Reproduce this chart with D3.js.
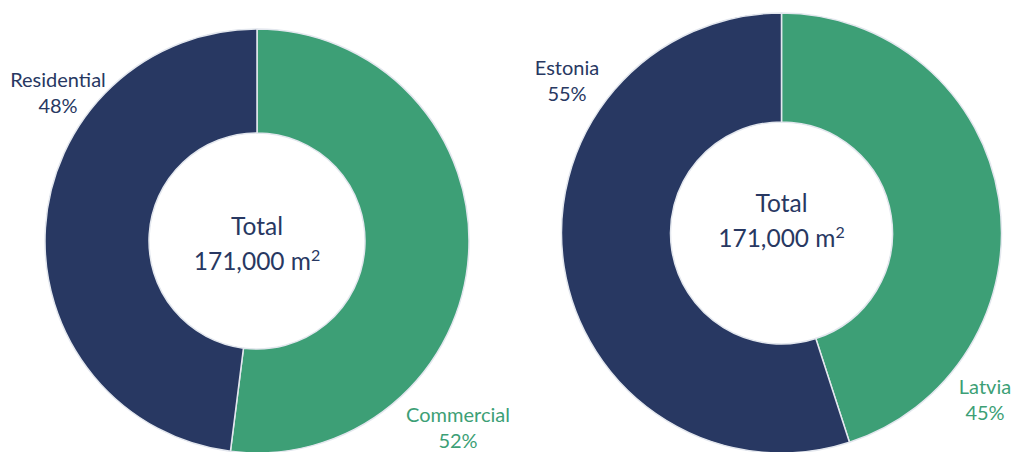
<!DOCTYPE html>
<html>
<head>
<meta charset="utf-8">
<script src="https://cdn.jsdelivr.net/npm/d3@7"></script>
<style>
  html, body { margin: 0; padding: 0; background: #fff; }
  svg { display: block; font-family: Lato, "Open Sans", sans-serif; }
</style>
</head>
<body>
<div id="chart"></div>
<script>
// segment data, clockwise from 12 o'clock
const typeLabels = ['Commercial', 'Residential'];
const typeValues = [52, 48];
const countryLabels = ['Latvia', 'Estonia'];
const countryValues = [45, 55];
const totalLines = ['Total', '171,000 m'];

const navy = '#283862';
const green = '#3d9f76';

const W = 1015, H = 452;
const svg = d3.select('#chart').append('svg')
    .attr('width', W)
    .attr('height', H);

function drawDonut(opts) {
    const g = svg.append('g')
        .attr('transform', `translate(${opts.cx},${opts.cy})`);

    const data = opts.labels.map((l, i) => ({ label: l, value: opts.values[i] }));
    const pie = d3.pie().sort(null).value(d => d.value);
    const arc = d3.arc().innerRadius(opts.r0).outerRadius(opts.r1);
    const color = d3.scaleOrdinal().domain(opts.labels).range([green, navy]);

    g.selectAll('path')
        .data(pie(data))
        .enter()
        .append('path')
        .attr('d', arc)
        .attr('fill', d => color(d.data.label))
        .attr('stroke', '#e3e7ee')
        .attr('stroke-width', 1.5);

    // center text
    g.append('text')
        .attr('text-anchor', 'middle')
        .attr('y', opts.totalY)
        .attr('font-size', 24.5)
        .attr('fill', navy)
        .text(totalLines[0]);

    const t2 = g.append('text')
        .attr('text-anchor', 'middle')
        .attr('y', opts.totalY + 35)
        .attr('font-size', 24.5)
        .attr('fill', navy);
    t2.append('tspan').text(totalLines[1]);
    t2.append('tspan')
        .attr('font-size', 16)
        .attr('dy', -9)
        .text('2');

    // outside labels
    opts.labelPos.forEach((p, i) => {
        const t = svg.append('text')
            .attr('text-anchor', 'middle')
            .attr('font-size', 20)
            .attr('fill', color(opts.labels[i]));
        t.append('tspan').attr('x', p[0]).attr('y', p[1]).text(opts.labels[i]);
        t.append('tspan').attr('x', p[0]).attr('y', p[1] + 26).text(opts.values[i] + '%');
    });
}

drawDonut({
    cx: 257, cy: 241, r0: 108, r1: 212,
    labels: typeLabels, values: typeValues,
    totalY: -6,
    labelPos: [[458, 422], [58, 87]]
});

drawDonut({
    cx: 781.5, cy: 233, r0: 111, r1: 220,
    labels: countryLabels, values: countryValues,
    totalY: -21,
    labelPos: [[985, 394], [567, 75]]
});
</script>
</body>
</html>
